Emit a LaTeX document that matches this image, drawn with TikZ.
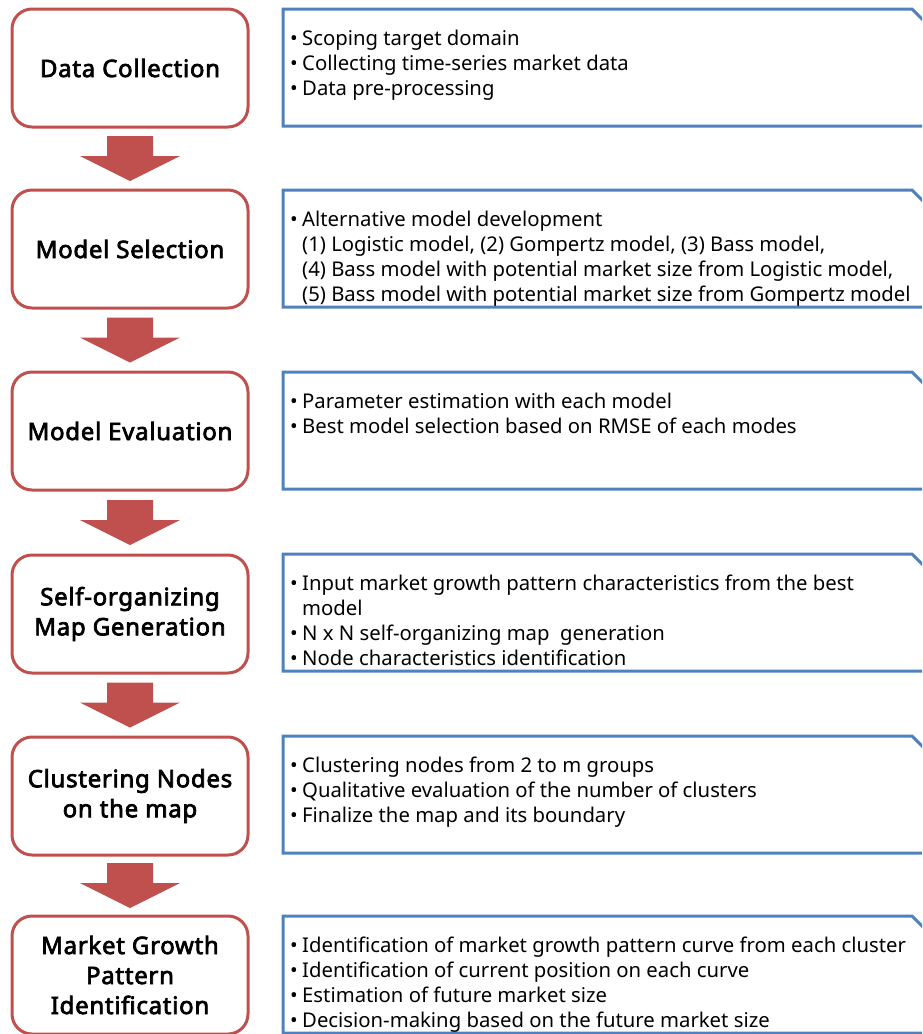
\documentclass[tikz,border=0pt]{standalone}
\usepackage{fontspec}
\setmainfont{Noto Sans}
\newfontfamily\labelfont{Noto Sans}[FakeBold=3,LetterSpace=3]
\usetikzlibrary{calc}
\definecolor{boxred}{HTML}{C0504D}
\definecolor{boxblue}{HTML}{4F81BD}
\newcommand\bu{\makebox[12pt][l]{•}}
\newcommand\ind{\hspace*{12pt}}
\begin{document}
\begin{tikzpicture}[x=1pt,y=-1pt,
  stage/.style={draw=boxred, line width=3pt, rounded corners=20pt,
    minimum width=236pt, minimum height=118pt, fill=white, align=center,
    font=\labelfont\fontsize{24}{30}\selectfont, inner sep=0pt},
  infobox/.style={minimum width=652pt, minimum height=117pt,
    inner sep=0pt, outer sep=0pt, anchor=north west},
  infoline/.style={draw=boxblue, line width=3pt},
  info/.style={anchor=north west, align=left, inner sep=0pt,
    font=\fontsize{20.3}{25}\selectfont},
  flowarrow/.style={fill=boxred}]
\path[use as bounding box] (0,0) rectangle (922,1034);
\clip (0,0) rectangle (922,1034);

% stages
\node[stage] (s1) at (130,68) {Data Collection};
\node[stage] (s2) at (130,249) {Model Selection};
\node[stage] (s3) at (130,431) {Model Evaluation};
\node[stage] (s4) at (130,614) {Self-organizing\\Map Generation};
\node[stage] (s5) at (130,796) {Clustering Nodes\\on the map};
\node[stage] (s6) at (130,975) {Market Growth\\Pattern\\Identification};

% info boxes
\node[infobox] (b1) at (283,9) {};
\node[infobox] (b2) at (283,190) {};
\node[infobox] (b3) at (283,372) {};
\node[infobox] (b4) at (283,554) {};
\node[infobox] (b5) at (283,736) {};
\node[infobox] (b6) at (283,916) {};
\foreach \b in {b1,b2,b3,b4,b5,b6}{
  \draw[infoline] (\b.north west) -- ($(\b.north east)+(-23,0)$)
    -- ($(\b.north east)+(0,23)$) -- (\b.south east) -- (\b.south west) -- cycle;
}

\node[info] (t1) at (290,30) {\bu Scoping target domain\\\bu Collecting time-series market data\\\bu Data pre-processing};
\node[info] (t2) at (290,211) {\bu Alternative model development\\\ind(1) Logistic model, (2) Gompertz model, (3) Bass model,\\\ind(4) Bass model with potential market size from Logistic model,\\\ind(5) Bass model with potential market size from Gompertz model};
\node[info] (t3) at (290,393) {\bu Parameter estimation with each model\\\bu Best model selection based on RMSE of each modes};
\node[info] (t4) at (290,575) {\bu Input market growth pattern characteristics from the best\\\ind model\\\bu N x N self-organizing map\ \ generation\\\bu Node characteristics identification};
\node[info] (t5) at (290,757) {\bu Clustering nodes from 2 to m groups\\\bu Qualitative evaluation of the number of clusters\\\bu Finalize the map and its boundary};
\node[info] (t6) at (290,937) {\bu Identification of market growth pattern curve from each cluster\\\bu Identification of current position on each curve\\\bu Estimation of future market size\\\bu Decision-making based on the future market size};

% arrows
\foreach \i/\j in {1/2,2/3,3/4,4/5,5/6}{
  \coordinate (a\i) at ($(s\i.south)!0.5!(s\j.north)$);
  \fill[flowarrow] ($(a\i)+(-23,-22.5)$) -- ++(46,0) -- ++(0,20) -- ++(27,0)
    -- ($(a\i)+(0,22.5)$) -- ($(a\i)+(-50,-2.5)$) -- ++(27,0) -- cycle;
}
\end{tikzpicture}
\end{document}
